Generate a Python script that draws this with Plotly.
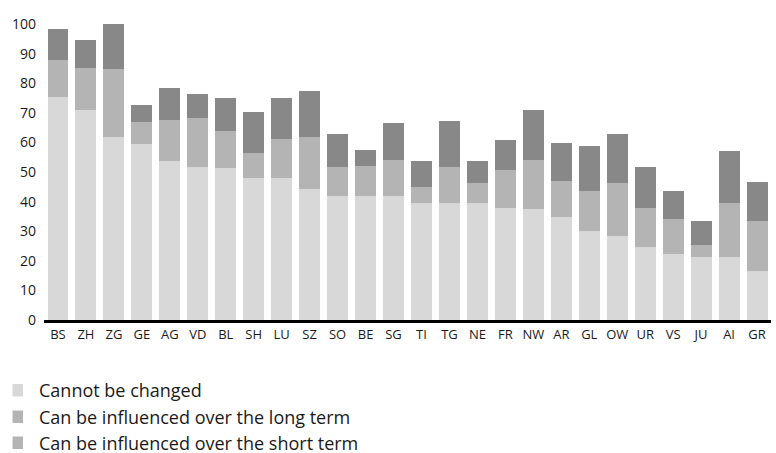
import plotly.graph_objects as go

# Cantons and the three stacked components (percentage points)
cantons = ["BS", "ZH", "ZG", "GE", "AG", "VD", "BL", "SH", "LU", "SZ", "SO", "BE", "SG",
           "TI", "TG", "NE", "FR", "NW", "AR", "GL", "OW", "UR", "VS", "JU", "AI", "GR"]
cannot_change = [75.3, 70.9, 61.8, 59.5, 53.7, 51.7, 51.4, 48.0, 48.0, 44.3, 41.9, 41.9, 41.9,
                 39.5, 39.5, 39.5, 37.8, 37.5, 34.8, 30.1, 28.4, 24.7, 22.3, 21.3, 21.3, 16.6]
long_term = [12.5, 14.2, 23.0, 7.4, 13.9, 16.5, 12.5, 8.4, 13.1, 17.5, 9.8, 10.1, 12.2,
             5.4, 12.2, 6.8, 12.9, 16.6, 12.2, 13.5, 17.9, 13.1, 11.8, 4.0, 18.2, 16.8]
short_term = [10.5, 9.5, 15.2, 5.7, 10.8, 8.2, 11.1, 13.9, 13.9, 15.6, 11.1, 5.4, 12.5,
              8.8, 15.5, 7.4, 10.1, 16.8, 12.8, 15.2, 16.5, 13.9, 9.5, 8.1, 17.6, 13.2]
y_ticks = [0, 10, 20, 30, 40, 50, 60, 70, 80, 90, 100]

series_names = ["Cannot be changed",
                "Can be influenced over the long term",
                "Can be influenced over the short term"]
bar_colors = ["#d8d8d8", "#b4b4b4", "#888888"]
key_colors = ["#d8d8d8", "#b4b4b4", "#b4b4b4"]

FONT = "Open Sans"
TEXT = "#1a1a1a"

W, H = 776, 453
L, R, T, B = 43.5, 4.5, 24, 133
PW, PH = W - L - R, H - T - B

fig = go.Figure()
for name, vals, col in zip(series_names, [cannot_change, long_term, short_term], bar_colors):
    fig.add_trace(go.Bar(x=cantons, y=vals, name=name, marker=dict(color=col, line=dict(width=0)),
                         showlegend=False))


def px_x(p):
    return (p - L) / PW


def px_y(p):
    return (H - B - p) / PH


# Key below the chart, drawn as small squares with labels
shapes = []
annotations = []
row_centres = [390.5, 417, 443]
for name, col, yc in zip(series_names, key_colors, row_centres):
    shapes.append(dict(type="rect", xref="paper", yref="paper",
                       x0=px_x(12), x1=px_x(22.5), y0=px_y(yc + 6), y1=px_y(yc - 6.5),
                       fillcolor=col, line=dict(width=0)))
    annotations.append(dict(xref="paper", yref="paper", x=px_x(36.5), y=px_y(yc - 0.5),
                            text=name, showarrow=False, xanchor="left", yanchor="middle",
                            font=dict(family=FONT, size=18, color=TEXT)))

fig.update_layout(
    width=W, height=H,
    margin=dict(l=L, r=R, t=T, b=B, pad=0),
    paper_bgcolor="white", plot_bgcolor="white",
    barmode="stack", bargap=0.25,
    font=dict(family=FONT, size=14, color=TEXT),
    xaxis=dict(showgrid=False, zeroline=False, showline=True, linecolor="black", linewidth=3,
               ticks="", tickfont=dict(size=13), fixedrange=True),
    yaxis=dict(range=[0, 100], tickvals=y_ticks, showgrid=False, zeroline=False,
               showline=False, ticks="", tickfont=dict(size=14), ticklabelstandoff=7),
    shapes=shapes, annotations=annotations,
)

fig.write_html("out.html")
